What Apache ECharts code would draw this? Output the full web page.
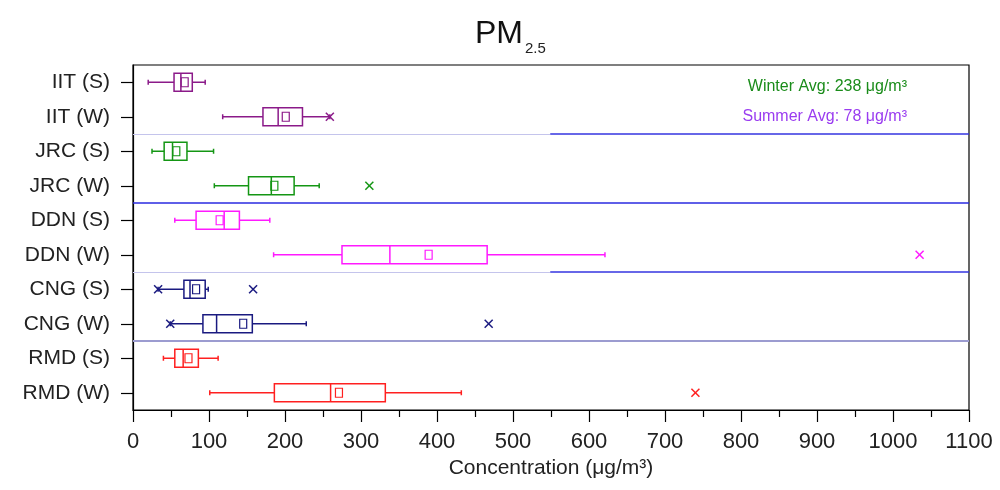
<!DOCTYPE html>
<html>
<head>
<meta charset="utf-8">
<script src="https://cdn.jsdelivr.net/npm/echarts@6/dist/echarts.min.js"></script>
<style>html,body{margin:0;padding:0;background:#fff}#c{width:1000px;height:490px}</style>
</head>
<body>
<div id="c"></div>
<script>
const categories = ['IIT (S)','IIT (W)','JRC (S)','JRC (W)','DDN (S)','DDN (W)','CNG (S)','CNG (W)','RMD (S)','RMD (W)'];
const mins    = [20, 118, 25, 107, 55, 185, 33, 49, 40, 101];
const q1s     = [54, 171, 41, 152, 83, 275, 67, 92, 55, 186];
const medians = [63, 191, 52, 182, 120, 338, 75, 110, 66, 260];
const q3s     = [78, 223, 71, 212, 140, 466, 95, 157, 86, 332];
const maxs    = [95, 259, 106, 245, 180, 621, 99, 228, 112, 432];
const means   = [68, 201, 57, 186, 114, 389, 83, 145, 73, 271];
const outlierValues = [259, 311, 1035, 33, 158, 49, 468, 740];
const outlierCats   = ['IIT (W)','JRC (W)','DDN (W)','CNG (S)','CNG (S)','CNG (W)','CNG (W)','RMD (W)'];
const separators = [2, 4, 6, 8];
const xTicks = [0,100,200,300,400,500,600,700,800,900,1000,1100];
const winterAvg = 238, summerAvg = 78;

const colors = ['#8b1a89','#8b1a89','#149614','#149614','#ff1aff','#ff1aff','#1a1a80','#1a1a80','#ff2020','#ff2020'];
const FONT = 'Liberation Sans, Arial, sans-serif';

const boxData = categories.map((c,i)=>[mins[i],q1s[i],medians[i],q3s[i],maxs[i],means[i],i]);
const outData = outlierValues.map((v,k)=>[v, categories.indexOf(outlierCats[k])]);

function renderBox(params, api){
  const i = api.value(6);
  const col = colors[i];
  const c = (v)=>api.coord([v, categories[i]]);
  const y = c(0)[1];
  const bh = 18;
  const st = {stroke: col, lineWidth: 1.5, fill: 'none'};
  const pMin=c(api.value(0))[0], pQ1=c(api.value(1))[0], pMed=c(api.value(2))[0], pQ3=c(api.value(3))[0], pMax=c(api.value(4))[0], pMean=c(api.value(5))[0];
  return {type:'group', children:[
    {type:'line', shape:{x1:pMin,y1:y,x2:pQ1,y2:y}, style:st},
    {type:'line', shape:{x1:pQ3,y1:y,x2:pMax,y2:y}, style:st},
    {type:'line', shape:{x1:pMin,y1:y-2.5,x2:pMin,y2:y+2.5}, style:st},
    {type:'line', shape:{x1:pMax,y1:y-2.5,x2:pMax,y2:y+2.5}, style:st},
    {type:'rect', shape:{x:pQ1,y:y-bh/2,width:pQ3-pQ1,height:bh}, style:st},
    {type:'line', shape:{x1:pMed,y1:y-bh/2,x2:pMed,y2:y+bh/2}, style:st},
    {type:'rect', shape:{x:pMean-3.5,y:y-4.5,width:7,height:9}, style:{stroke:col,lineWidth:1.2,fill:'none'}}
  ]};
}
function renderOut(params, api){
  const i = api.value(1);
  const col = colors[i];
  const p = api.coord([api.value(0), categories[i]]);
  const s = 4;
  const st = {stroke: col, lineWidth: 1.5};
  return {type:'group', children:[
    {type:'line', shape:{x1:p[0]-s,y1:p[1]-s,x2:p[0]+s,y2:p[1]+s}, style:st},
    {type:'line', shape:{x1:p[0]-s,y1:p[1]+s,x2:p[0]+s,y2:p[1]-s}, style:st}
  ]};
}

const sepLines = [
  [{coord:[0,separators[0]], lineStyle:{color:'#c4c4ec',width:1,type:'solid'}},{coord:[549,separators[0]]}],
  [{coord:[549,separators[0]], lineStyle:{color:'#3434e0',width:1.5,type:'solid'}},{coord:[1100,separators[0]]}],
  [{coord:[0,separators[1]], lineStyle:{color:'#2a2ae0',width:1.5,type:'solid'}},{coord:[1100,separators[1]]}],
  [{coord:[0,separators[2]], lineStyle:{color:'#c4c4ec',width:1,type:'solid'}},{coord:[549,separators[2]]}],
  [{coord:[549,separators[2]], lineStyle:{color:'#3434e0',width:1.5,type:'solid'}},{coord:[1100,separators[2]]}],
  [{coord:[0,separators[3]], lineStyle:{color:'#9c9cd0',width:2,type:'solid'}},{coord:[1100,separators[3]]}]
];

const G = {left:133, right:31, top:65, bottom:80};
const chart = echarts.init(document.getElementById('c'), null, {renderer:'canvas'});
chart.setOption({
  animation:false,
  backgroundColor:'#fff',
  textStyle:{fontFamily:FONT},
  title:{
    text:'{a|PM}{b|2.5}', left: 470, top: 8,
    textStyle:{rich:{
      a:{fontSize:32,color:'#111',fontWeight:'normal',fontFamily:FONT},
      b:{fontSize:15,color:'#222',fontWeight:'normal',padding:[28,0,0,2],verticalAlign:'bottom',fontFamily:FONT}
    }}
  },
  grid:[
    Object.assign({show:true, borderColor:'#000', borderWidth:1.2, backgroundColor:'transparent'}, G),
    Object.assign({show:false}, G)
  ],
  xAxis:[{
    gridIndex:0, type:'value', min:xTicks[0], max:xTicks[xTicks.length-1], interval:100, position:'bottom',
    name:'Concentration (μg/m³)', nameLocation:'middle', nameGap:48,
    nameTextStyle:{fontSize:21,color:'#222',fontFamily:FONT},
    axisLine:{show:true,onZero:false,lineStyle:{color:'#000',width:1.2}},
    axisTick:{show:true,inside:false,length:12,lineStyle:{color:'#000',width:1.2}},
    minorTick:{show:true,splitNumber:2,length:7,lineStyle:{color:'#000',width:1.2}},
    splitLine:{show:false},
    axisLabel:{fontSize:22,color:'#222',margin:21,fontFamily:FONT,formatter:(v)=>String(v)}
  },{
    gridIndex:1, type:'value', min:xTicks[0], max:xTicks[xTicks.length-1], show:false
  }],
  yAxis:[{
    gridIndex:0, type:'category', data:categories.slice().reverse(), position:'left',
    axisLine:{show:true,onZero:false,lineStyle:{color:'#000',width:1.2}},
    axisTick:{show:true,length:12,alignWithLabel:true,lineStyle:{color:'#000',width:1.2}},
    axisLabel:{fontSize:21,color:'#222',margin:23,fontFamily:FONT},
    splitLine:{show:false}
  },{
    gridIndex:1, type:'value', min:0, max:10, inverse:true, show:false
  }],
  graphic:[
    {type:'text', right:93, top:79, style:{text:'Winter Avg: '+winterAvg+' μg/m³', fill:'#1a8c1a', font:'16px '+FONT}},
    {type:'text', right:93, top:109, style:{text:'Summer Avg: '+summerAvg+' μg/m³', fill:'#9a3cf0', font:'16px '+FONT}}
  ],
  series:[
    {type:'line', xAxisIndex:1, yAxisIndex:1, data:[], silent:true,
     markLine:{symbol:'none', silent:true, label:{show:false}, data:sepLines}},
    {type:'custom', xAxisIndex:0, yAxisIndex:0, renderItem:renderBox, data:boxData,
     encode:{x:[0,1,2,3,4,5]}, clip:false},
    {type:'custom', xAxisIndex:0, yAxisIndex:0, renderItem:renderOut, data:outData,
     encode:{x:0}}
  ]
});
</script>
</body>
</html>
